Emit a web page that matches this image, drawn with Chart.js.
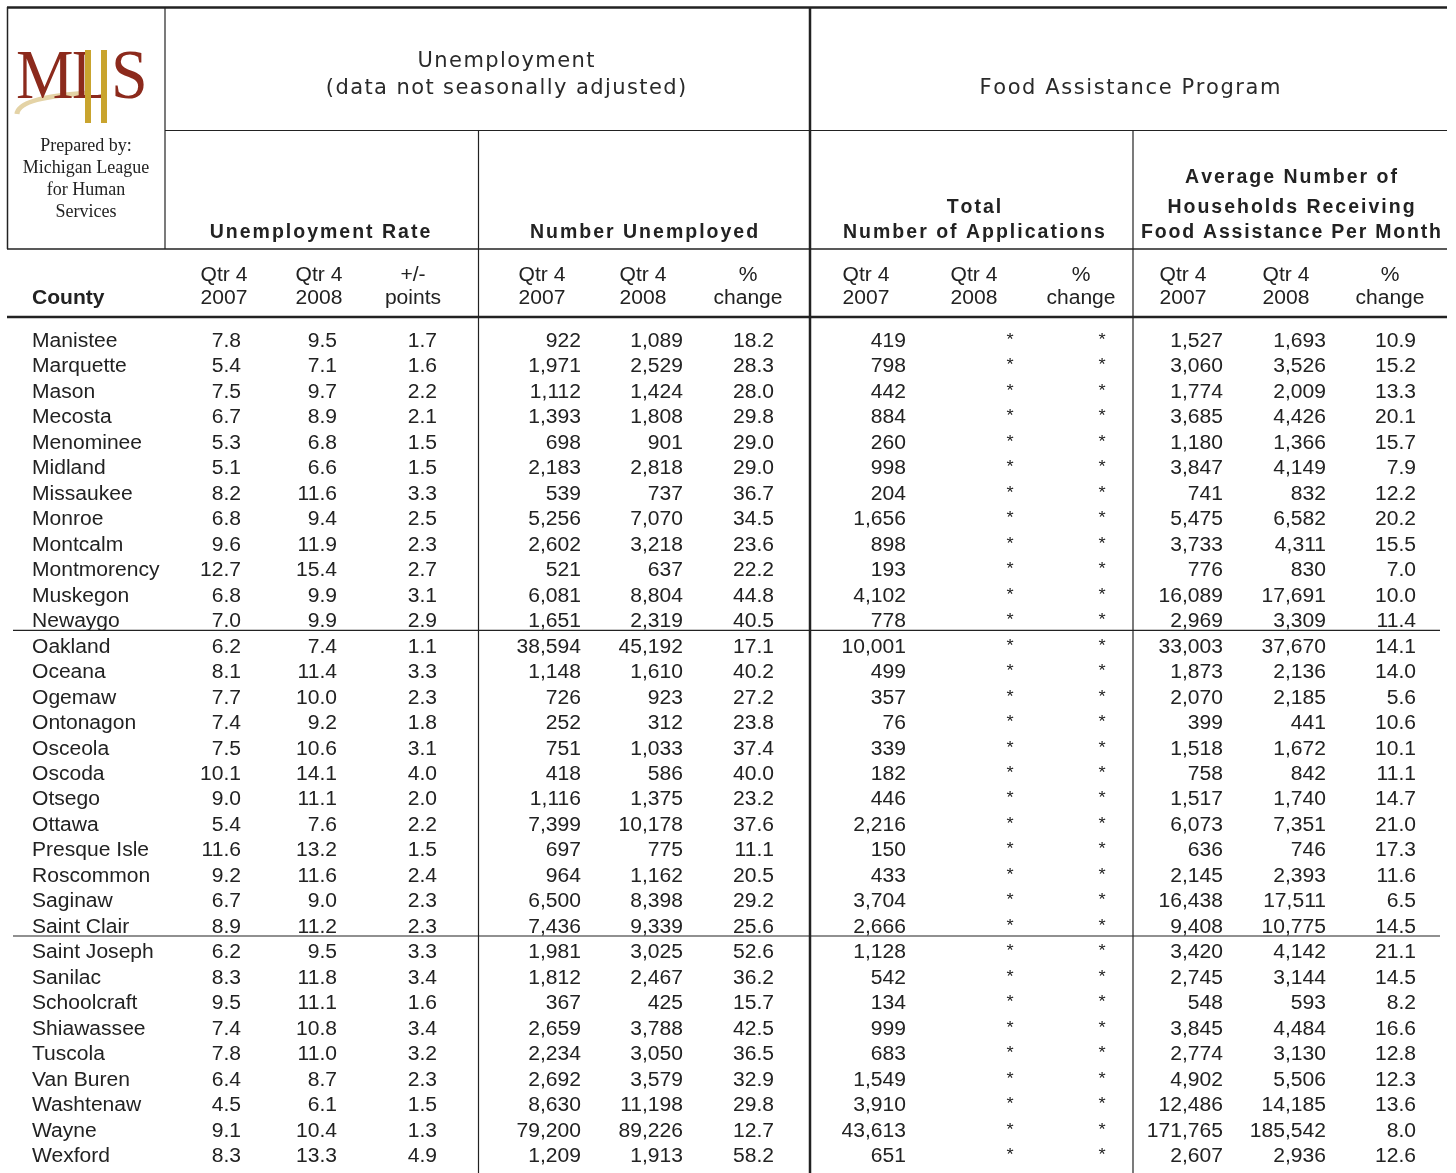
<!DOCTYPE html>
<html>
<head>
<meta charset="utf-8">
<title>Unemployment and Food Assistance by County</title>
<script src="https://cdn.jsdelivr.net/npm/chart.js@4/dist/chart.umd.min.js"></script>
<style>
  html, body { margin: 0; padding: 0; background: #fff; }
  #wrap { width: 1456px; height: 1173px; }
</style>
</head>
<body>
<div id="wrap"><canvas id="tabla" width="1456" height="1173"></canvas></div>
<script>
const counties = ['Manistee', 'Marquette', 'Mason', 'Mecosta', 'Menominee', 'Midland', 'Missaukee',
  'Monroe', 'Montcalm', 'Montmorency', 'Muskegon', 'Newaygo', 'Oakland', 'Oceana', 'Ogemaw',
  'Ontonagon', 'Osceola', 'Oscoda', 'Otsego', 'Ottawa', 'Presque Isle', 'Roscommon', 'Saginaw',
  'Saint Clair', 'Saint Joseph', 'Sanilac', 'Schoolcraft', 'Shiawassee', 'Tuscola', 'Van Buren',
  'Washtenaw', 'Wayne', 'Wexford'];

const rate2007 = [7.8, 5.4, 7.5, 6.7, 5.3, 5.1, 8.2, 6.8, 9.6, 12.7, 6.8, 7.0, 6.2, 8.1, 7.7, 7.4, 7.5,
  10.1, 9.0, 5.4, 11.6, 9.2, 6.7, 8.9, 6.2, 8.3, 9.5, 7.4, 7.8, 6.4, 4.5, 9.1, 8.3];
const rate2008 = [9.5, 7.1, 9.7, 8.9, 6.8, 6.6, 11.6, 9.4, 11.9, 15.4, 9.9, 9.9, 7.4, 11.4, 10.0, 9.2, 10.6,
  14.1, 11.1, 7.6, 13.2, 11.6, 9.0, 11.2, 9.5, 11.8, 11.1, 10.8, 11.0, 8.7, 6.1, 10.4, 13.3];
const ratePoints = [1.7, 1.6, 2.2, 2.1, 1.5, 1.5, 3.3, 2.5, 2.3, 2.7, 3.1, 2.9, 1.1, 3.3, 2.3, 1.8, 3.1,
  4.0, 2.0, 2.2, 1.5, 2.4, 2.3, 2.3, 3.3, 3.4, 1.6, 3.4, 3.2, 2.3, 1.5, 1.3, 4.9];

const unemp2007 = [922, 1971, 1112, 1393, 698, 2183, 539, 5256, 2602, 521, 6081, 1651, 38594, 1148, 726,
  252, 751, 418, 1116, 7399, 697, 964, 6500, 7436, 1981, 1812, 367, 2659, 2234, 2692, 8630, 79200, 1209];
const unemp2008 = [1089, 2529, 1424, 1808, 901, 2818, 737, 7070, 3218, 637, 8804, 2319, 45192, 1610, 923,
  312, 1033, 586, 1375, 10178, 775, 1162, 8398, 9339, 3025, 2467, 425, 3788, 3050, 3579, 11198, 89226, 1913];
const unempChange = [18.2, 28.3, 28.0, 29.8, 29.0, 29.0, 36.7, 34.5, 23.6, 22.2, 44.8, 40.5, 17.1, 40.2,
  27.2, 23.8, 37.4, 40.0, 23.2, 37.6, 11.1, 20.5, 29.2, 25.6, 52.6, 36.2, 15.7, 42.5, 36.5, 32.9, 29.8, 12.7, 58.2];

const apps2007 = [419, 798, 442, 884, 260, 998, 204, 1656, 898, 193, 4102, 778, 10001, 499, 357, 76, 339,
  182, 446, 2216, 150, 433, 3704, 2666, 1128, 542, 134, 999, 683, 1549, 3910, 43613, 651];
// not available in the source (shown as *)
const apps2008 = [null, null, null, null, null, null, null, null, null, null, null, null, null, null, null,
  null, null, null, null, null, null, null, null, null, null, null, null, null, null, null, null, null, null];
const appsChange = [null, null, null, null, null, null, null, null, null, null, null, null, null, null, null,
  null, null, null, null, null, null, null, null, null, null, null, null, null, null, null, null, null, null];

const hh2007 = [1527, 3060, 1774, 3685, 1180, 3847, 741, 5475, 3733, 776, 16089, 2969, 33003, 1873, 2070,
  399, 1518, 758, 1517, 6073, 636, 2145, 16438, 9408, 3420, 2745, 548, 3845, 2774, 4902, 12486, 171765, 2607];
const hh2008 = [1693, 3526, 2009, 4426, 1366, 4149, 832, 6582, 4311, 830, 17691, 3309, 37670, 2136, 2185,
  441, 1672, 842, 1740, 7351, 746, 2393, 17511, 10775, 4142, 3144, 593, 4484, 3130, 5506, 14185, 185542, 2936];
const hhChange = [10.9, 15.2, 13.3, 20.1, 15.7, 7.9, 12.2, 20.2, 15.5, 7.0, 10.0, 11.4, 14.1, 14.0, 5.6,
  10.6, 10.1, 11.1, 14.7, 21.0, 17.3, 11.6, 6.5, 14.5, 21.1, 14.5, 8.2, 16.6, 12.8, 12.3, 13.6, 8.0, 12.6];

// rows after which a rule is drawn
const groupBreaks = ['Newaygo', 'Saint Clair'];

const uno = v => v.toFixed(1);
const miles = v => v.toLocaleString('en-US');
const aster = v => (v === null ? '*' : String(v));
const texto = v => v;

// column layout (x anchor on the x scale, alignment)
const columnas = [
  { valores: counties, fmt: texto, x: 32, align: 'left' },
  { valores: rate2007, fmt: uno, x: 241, align: 'right' },
  { valores: rate2008, fmt: uno, x: 337, align: 'right' },
  { valores: ratePoints, fmt: uno, x: 437, align: 'right' },
  { valores: unemp2007, fmt: miles, x: 581, align: 'right' },
  { valores: unemp2008, fmt: miles, x: 683, align: 'right' },
  { valores: unempChange, fmt: uno, x: 774, align: 'right' },
  { valores: apps2007, fmt: miles, x: 906, align: 'right' },
  { valores: apps2008, fmt: aster, x: 1010, align: 'center', chico: true },
  { valores: appsChange, fmt: aster, x: 1102, align: 'center', chico: true },
  { valores: hh2007, fmt: miles, x: 1223, align: 'right' },
  { valores: hh2008, fmt: miles, x: 1326, align: 'right' },
  { valores: hhChange, fmt: uno, x: 1416, align: 'right' }
];

const SX = 1.08;
const FUENTE = '19.5px "Liberation Sans", Arial, sans-serif';
const CHICA = '17px "Liberation Sans", Arial, sans-serif';
const NEGRA = 'bold 19.5px "Liberation Sans", Arial, sans-serif';
const TINTA = '#222';

function estirado(ctx, txt, x, y, align, sx) {
  ctx.save();
  ctx.translate(x, y);
  ctx.scale(sx, 1);
  ctx.textAlign = align;
  ctx.fillText(txt, 0, 0);
  ctx.restore();
}

function espaciado(ctx, txt, cx, y, sp) {
  const chars = [...txt];
  const anchos = chars.map(c => ctx.measureText(c).width);
  const total = anchos.reduce((a, b) => a + b, 0) + sp * (chars.length - 1);
  let x = cx - total / 2;
  ctx.textAlign = 'left';
  chars.forEach((c, i) => {
    ctx.fillText(c, x, y);
    x += anchos[i] + sp;
  });
}

function linea(ctx, x1, y1, x2, y2, w) {
  ctx.beginPath();
  ctx.lineWidth = w;
  ctx.moveTo(x1, y1);
  ctx.lineTo(x2, y2);
  ctx.stroke();
}

function logo(ctx) {
  ctx.save();
  // swoosh
  ctx.strokeStyle = '#e4d3a6';
  ctx.lineWidth = 5;
  ctx.beginPath();
  ctx.moveTo(17, 114);
  ctx.quadraticCurveTo(18, 97, 90, 93);
  ctx.stroke();
  ctx.fillStyle = '#8c2a1c';
  ctx.font = '66px "Liberation Serif", "DejaVu Serif", serif';
  ctx.textAlign = 'left';
  ctx.textBaseline = 'alphabetic';
  ctx.save();
  ctx.translate(16, 98);
  ctx.scale(0.98, 1.05);
  ctx.fillText('M', 0, 0);
  ctx.restore();
  ctx.save();
  ctx.translate(72, 98);
  ctx.scale(0.9, 1.05);
  ctx.fillText('L', 0, 0);
  ctx.restore();
  // gold bars
  ctx.fillStyle = '#c9a42e';
  ctx.fillRect(85, 50, 6, 73);
  ctx.fillRect(101, 50, 6, 73);
  ctx.fillStyle = '#8c2a1c';
  ctx.save();
  ctx.translate(111, 98);
  ctx.scale(1.0, 1.05);
  ctx.fillText('S', 0, 0);
  ctx.restore();
  // Prepared by
  ctx.fillStyle = TINTA;
  ctx.font = '18px "Liberation Serif", "Times New Roman", serif';
  ctx.textAlign = 'center';
  ctx.fillText('Prepared by:', 86, 151);
  ctx.fillText('Michigan League', 86, 173);
  ctx.fillText('for Human', 86, 195);
  ctx.fillText('Services', 86, 217);
  ctx.restore();
}

const marcoTabla = {
  id: 'marcoTabla',
  beforeDraw(chart) {
    const ctx = chart.ctx;
    ctx.save();
    ctx.fillStyle = '#fff';
    ctx.fillRect(0, 0, chart.width, chart.height);
    ctx.restore();
  },
  afterDraw(chart) {
    const ctx = chart.ctx;
    const yS = chart.scales.y;
    ctx.save();
    ctx.strokeStyle = TINTA;
    ctx.fillStyle = TINTA;

    // frame
    linea(ctx, 7, 7.5, 1447, 7.5, 2.5);
    linea(ctx, 7.5, 7, 7.5, 249, 1.5);
    linea(ctx, 165, 7, 165, 249, 1.2);
    linea(ctx, 165, 130.5, 1447, 130.5, 1.2);
    linea(ctx, 810, 7, 810, chart.height, 2.5);
    linea(ctx, 478.5, 130, 478.5, chart.height, 1.2);
    linea(ctx, 1133, 130, 1133, chart.height, 1.2);
    linea(ctx, 7, 249, 1447, 249, 1.5);
    linea(ctx, 7, 317, 1447, 317, 2.5);

    // rules between county groups
    groupBreaks.forEach(nombre => {
      const i = counties.indexOf(nombre);
      const y = (yS.getPixelForTick(i) + yS.getPixelForTick(i + 1)) / 2 - 2.5;
      linea(ctx, 13, y, 1440, y, 1.2);
    });

    logo(ctx);

    ctx.fillStyle = '#2a2a2a';
    ctx.textBaseline = 'alphabetic';
    ctx.font = '21px "DejaVu Sans", sans-serif';
    espaciado(ctx, 'Unemployment', 506, 67, 1.4);
    espaciado(ctx, '(data not seasonally adjusted)', 506, 94, 1.4);
    espaciado(ctx, 'Food Assistance Program', 1130, 94, 1.6);

    ctx.fillStyle = TINTA;
    ctx.font = NEGRA;
    espaciado(ctx, 'Unemployment Rate', 320, 238, 2.0);
    espaciado(ctx, 'Number Unemployed', 644, 238, 2.0);
    espaciado(ctx, 'Total', 974, 213, 2.0);
    espaciado(ctx, 'Number of Applications', 974, 238, 2.0);
    espaciado(ctx, 'Average Number of', 1291, 183, 2.0);
    espaciado(ctx, 'Households Receiving', 1291, 213, 2.0);
    espaciado(ctx, 'Food Assistance Per Month', 1291, 238, 1.8);

    estirado(ctx, 'County', 32, 304, 'left', SX);

    ctx.font = FUENTE;
    const subtitulos = [
      [224, 'Qtr 4', '2007'], [319, 'Qtr 4', '2008'], [413, '+/-', 'points'],
      [542, 'Qtr 4', '2007'], [643, 'Qtr 4', '2008'], [748, '%', 'change'],
      [866, 'Qtr 4', '2007'], [974, 'Qtr 4', '2008'], [1081, '%', 'change'],
      [1183, 'Qtr 4', '2007'], [1286, 'Qtr 4', '2008'], [1390, '%', 'change']
    ];
    subtitulos.forEach(([x, a, b]) => {
      estirado(ctx, a, x, 281, 'center', SX);
      estirado(ctx, b, x, 304, 'center', SX);
    });

    // cells, placed by the chart's scales
    chart.data.datasets.forEach((ds, di) => {
      const meta = chart.getDatasetMeta(di);
      ctx.font = ds.chico ? CHICA : FUENTE;
      meta.data.forEach((pt, i) => {
        estirado(ctx, ds.celdas[i], pt.x, pt.y + (ds.chico ? 5 : 7), ds.alinear, SX);
      });
    });
    ctx.restore();
  }
};

const datasets = columnas.map(col => ({
  data: counties.map(c => ({ x: col.x, y: c })),
  celdas: col.valores.map(col.fmt),
  alinear: col.align,
  chico: !!col.chico,
  pointRadius: 0,
  pointHoverRadius: 0
}));

const config = {
  type: 'scatter',
  data: { datasets: datasets },
  options: {
    responsive: false,
    animation: false,
    events: [],
    layout: { padding: { left: 0, right: 0, top: 340, bottom: 18 } },
    plugins: { legend: { display: false }, tooltip: { enabled: false }, title: { display: false } },
    scales: {
      x: { type: 'linear', min: 0, max: 1456, display: false },
      y: { type: 'category', labels: counties, offset: false, display: false }
    }
  },
  plugins: [marcoTabla]
};

new Chart(document.getElementById('tabla'), config);
</script>
</body>
</html>
